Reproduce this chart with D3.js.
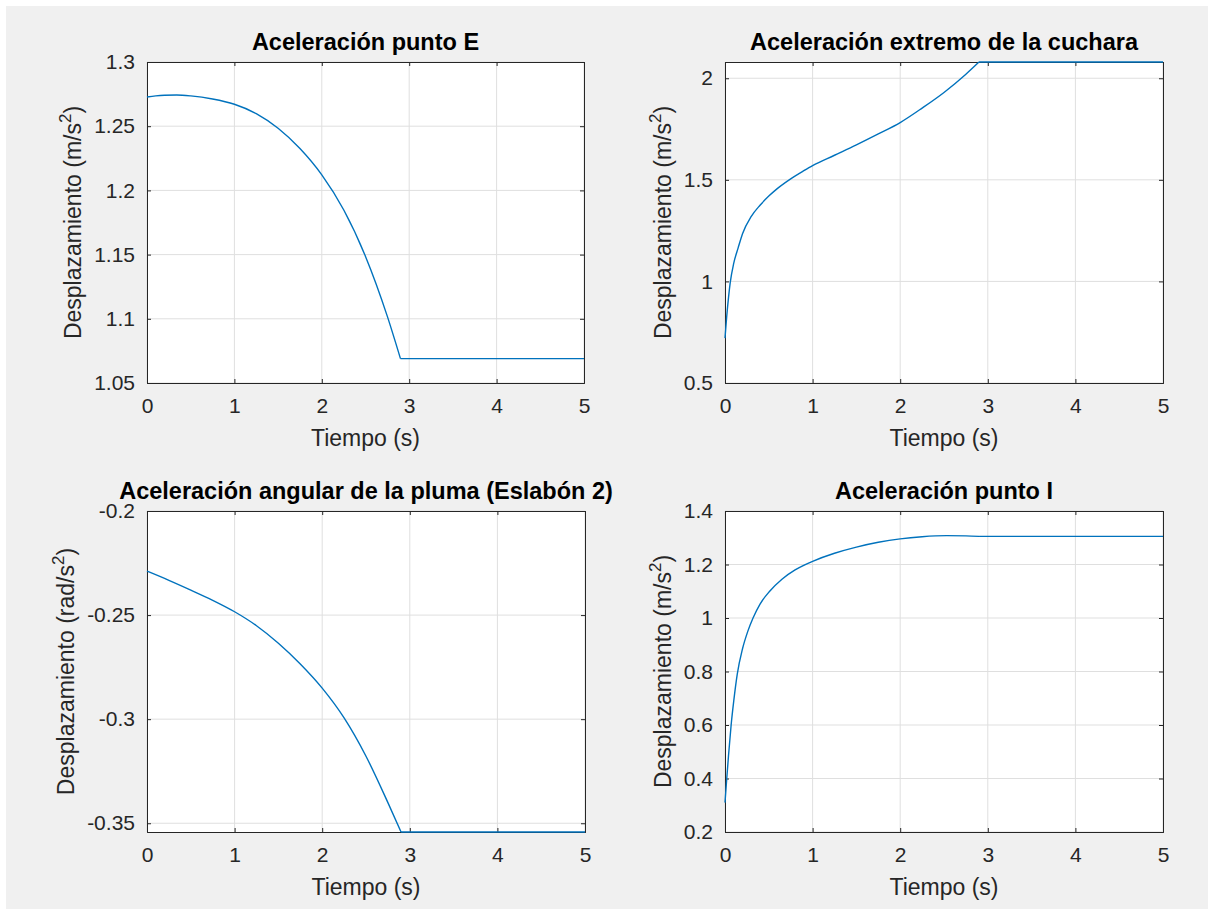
<!DOCTYPE html>
<html>
<head>
<meta charset="utf-8">
<script src="https://cdn.jsdelivr.net/npm/d3@7"></script>
<style>
  body { margin: 0; background: #ffffff; }
  svg text { font-family: "Liberation Sans", Arial, Helvetica, sans-serif; }
</style>
</head>
<body>
<svg id="fig" width="1214" height="915"></svg>
<script>
// ---- Datos (tiempo en s) ----
const tiempoTicks = [0, 1, 2, 3, 4, 5];
const tParada = 2.9; // a partir de aquí la aceleración se mantiene constante

// Aceleración punto E (m/s^2)
const tPuntoE = [0, 0.1, 0.2, 0.34, 0.5, 0.75, 1, 1.25, 1.5, 1.75, 2, 2.25, 2.5, 2.75, 2.9, 5];
const accPuntoE = [1.2727, 1.2736, 1.2741, 1.2743, 1.2736, 1.2712, 1.2671, 1.2598, 1.2484, 1.2326, 1.2121, 1.1849, 1.1486, 1.1019, 1.0690, 1.0690];

// Aceleración extremo de la cuchara (m/s^2)
const tCuchara = [0, 0.02, 0.04, 0.06, 0.1, 0.15, 0.2, 0.3, 0.4, 0.5, 0.6, 0.75, 0.9, 1, 1.25, 1.5, 1.75, 2, 2.25, 2.5, 2.75, 2.9, 5];
const accCuchara = [0.721, 0.83, 0.92, 0.995, 1.09, 1.165, 1.235, 1.32, 1.375, 1.42, 1.458, 1.505, 1.545, 1.570, 1.621, 1.672, 1.726, 1.782, 1.853, 1.930, 2.020, 2.080, 2.080];

// Aceleración angular de la pluma, eslabón 2 (rad/s^2)
const tPluma = [0, 0.25, 0.5, 0.75, 1, 1.25, 1.5, 1.75, 2, 2.25, 2.5, 2.75, 2.9, 5];
const accPluma = [-0.2289, -0.2333, -0.2380, -0.2429, -0.2484, -0.2551, -0.2635, -0.2735, -0.2851, -0.2994, -0.3178, -0.3401, -0.3542, -0.3542];

// Aceleración punto I (m/s^2)
const tPuntoI = [0, 0.02, 0.04, 0.07, 0.1, 0.14, 0.2, 0.26, 0.32, 0.4, 0.51, 0.65, 0.8, 0.91, 1, 1.25, 1.5, 1.75, 2, 2.25, 2.53, 2.75, 2.9, 5];
const accPuntoI = [0.31, 0.40, 0.485, 0.60, 0.69, 0.79, 0.885, 0.95, 1.0, 1.052, 1.10, 1.145, 1.18, 1.199, 1.212, 1.242, 1.265, 1.283, 1.296, 1.304, 1.308, 1.307, 1.305, 1.305];

// Ejes Y
const yTicksE = [1.05, 1.1, 1.15, 1.2, 1.25, 1.3];
const yLabelsE = ["1.05", "1.1", "1.15", "1.2", "1.25", "1.3"];
const yTicksCuchara = [0.5, 1, 1.5, 2];
const yLabelsCuchara = ["0.5", "1", "1.5", "2"];
const yTicksPluma = [-0.35, -0.3, -0.25, -0.2];
const yLabelsPluma = ["-0.35", "-0.3", "-0.25", "-0.2"];
const yTicksI = [0.2, 0.4, 0.6, 0.8, 1, 1.2, 1.4];
const yLabelsI = ["0.2", "0.4", "0.6", "0.8", "1", "1.2", "1.4"];

const titulos = [
  "Aceleración punto E",
  "Aceleración extremo de la cuchara",
  "Aceleración angular de la pluma (Eslabón 2)",
  "Aceleración punto I"
];
const unidades = ["m/s", "m/s", "rad/s", "m/s"];
const etiquetaX = "Tiempo (s)";
const etiquetaY = "Desplazamiento";

// ---- Configuración de cada subgráfica ----
const paneles = [
  { titulo: titulos[0], unidad: unidades[0], t: tPuntoE, v: accPuntoE, dom: [1.05, 1.3], ticks: yTicksE, labels: yLabelsE, caja: { x: 147, y: 62, w: 437, h: 321 } },
  { titulo: titulos[1], unidad: unidades[1], t: tCuchara, v: accCuchara, dom: [0.5, 2.080], ticks: yTicksCuchara, labels: yLabelsCuchara, caja: { x: 725, y: 62, w: 438, h: 321 } },
  { titulo: titulos[2], unidad: unidades[2], t: tPluma, v: accPluma, dom: [-0.3542, -0.2], ticks: yTicksPluma, labels: yLabelsPluma, caja: { x: 147, y: 511, w: 438, h: 321 } },
  { titulo: titulos[3], unidad: unidades[3], t: tPuntoI, v: accPuntoI, dom: [0.2, 1.4], ticks: yTicksI, labels: yLabelsI, caja: { x: 725, y: 511, w: 438, h: 321 } }
];

const svg = d3.select("#fig");

// Fondo de la figura
svg.append("rect").attr("x", 0).attr("y", 0).attr("width", 1214).attr("height", 915).attr("fill", "#ffffff");
svg.append("rect").attr("x", 6).attr("y", 6).attr("width", 1202).attr("height", 903).attr("fill", "#f0f0f0");

const colorEje = "#262626";
const colorRejilla = "#dfdfdf";
const colorLinea = "#0072bd";
const largoTick = 4;

paneles.forEach((p, i) => {
  const { x, y, w, h } = p.caja;
  const g = svg.append("g").attr("transform", `translate(${x},${y})`);

  const xs = d3.scaleLinear().domain([0, 5]).range([0, w]);
  const ys = d3.scaleLinear().domain(p.dom).range([h, 0]);

  // Área de la gráfica
  g.append("rect").attr("width", w).attr("height", h).attr("fill", "#ffffff");

  // Rejilla
  g.append("g").selectAll("line").data(tiempoTicks).join("line")
    .attr("x1", d => xs(d)).attr("x2", d => xs(d))
    .attr("y1", 0).attr("y2", h)
    .attr("stroke", colorRejilla).attr("stroke-width", 1);
  g.append("g").selectAll("line").data(p.ticks).join("line")
    .attr("x1", 0).attr("x2", w)
    .attr("y1", d => ys(d)).attr("y2", d => ys(d))
    .attr("stroke", colorRejilla).attr("stroke-width", 1);

  // Ejes (marcas hacia dentro, en los cuatro lados)
  const ejeAbajo = d3.axisBottom(xs).tickValues(tiempoTicks).tickSize(-largoTick).tickPadding(15).tickFormat(d3.format("d"));
  const ejeArriba = d3.axisTop(xs).tickValues(tiempoTicks).tickSize(-largoTick).tickFormat("");
  const ejeIzq = d3.axisLeft(ys).tickValues(p.ticks).tickSize(-largoTick).tickPadding(12)
    .tickFormat((d, k) => p.labels[k]);
  const ejeDer = d3.axisRight(ys).tickValues(p.ticks).tickSize(-largoTick).tickFormat("");

  const estilo = sel => {
    sel.selectAll(".domain").attr("stroke", colorEje).attr("stroke-width", 1);
    sel.selectAll(".tick line").attr("stroke", colorEje).attr("stroke-width", 1);
    sel.selectAll(".tick text").attr("fill", colorEje).style("font-size", "21px");
  };
  g.append("g").attr("transform", `translate(0,${h})`).call(ejeAbajo).call(estilo);
  g.append("g").call(ejeArriba).call(estilo);
  const gIzq = g.append("g").call(ejeIzq).call(estilo);
  g.append("g").attr("transform", `translate(${w},0)`).call(ejeDer).call(estilo);

  // Curva: tramo variable suavizado y tramo constante recto
  const puntos = p.t.map((t, k) => [t, p.v[k]]);
  const tramoVar = puntos.filter(d => d[0] <= tParada);
  const tramoCte = puntos.filter(d => d[0] >= tParada);
  const lineaSuave = d3.line().x(d => xs(d[0])).y(d => ys(d[1])).curve(d3.curveMonotoneX);
  const lineaRecta = d3.line().x(d => xs(d[0])).y(d => ys(d[1]));
  g.append("path").attr("d", lineaSuave(tramoVar))
    .attr("fill", "none").attr("stroke", colorLinea).attr("stroke-width", 1.4)
    .attr("stroke-linejoin", "round");
  g.append("path").attr("d", lineaRecta(tramoCte))
    .attr("fill", "none").attr("stroke", colorLinea).attr("stroke-width", 1.4);

  // Título
  g.append("text").attr("x", w / 2).attr("y", -12)
    .attr("text-anchor", "middle").attr("fill", "#000000")
    .style("font-size", "23.5px").style("font-weight", "bold")
    .text(p.titulo);

  // Etiqueta X
  g.append("text").attr("x", w / 2).attr("y", h + 63)
    .attr("text-anchor", "middle").attr("fill", colorEje)
    .style("font-size", "23px").text(etiquetaX);

  // Etiqueta Y con superíndice
  let anchoMax = 0;
  gIzq.selectAll(".tick text").each(function () { anchoMax = Math.max(anchoMax, this.getComputedTextLength()); });
  const xBase = -12 - anchoMax - 13;
  const ty = g.append("text")
    .attr("transform", `translate(${xBase},${h / 2}) rotate(-90)`)
    .attr("text-anchor", "middle").attr("fill", colorEje)
    .style("font-size", "23px");
  ty.append("tspan").text(`${etiquetaY} (${p.unidad}`);
  ty.append("tspan").attr("dy", -10).style("font-size", "17px").text("2");
  ty.append("tspan").attr("dy", 10).text(")");
});
</script>
</body>
</html>
